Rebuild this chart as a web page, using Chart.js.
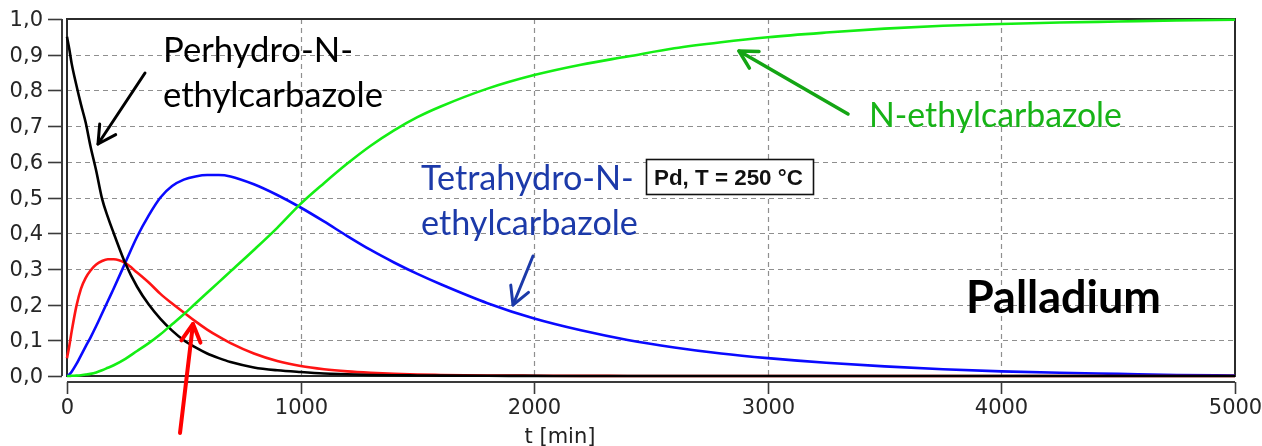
<!DOCTYPE html>
<html>
<head>
<meta charset="utf-8">
<script src="https://cdn.jsdelivr.net/npm/chart.js@4/dist/chart.umd.min.js"></script>
<style>
  html, body { margin: 0; padding: 0; background: #fff; }
  #wrap { width: 1262px; height: 446px; }
</style>
</head>
<body>
<div id="wrap"><canvas id="c" width="1262" height="446"></canvas></div>
<script>
// ---- data ----
const timeMin = [0,10,20,40,60,80,100,125,150,175,200,250,300,350,400,450,500,550,600,650,700,800,900,1000,1100,1200,1300,1400,1500,1600,1800,2000,2200,2400,2600,2800,3000,3250,3500,3750,4000,4250,4500,4750,5000];

const perhydro = [0.95,0.915,0.875,0.815,0.76,0.71,0.645,0.575,0.497,0.445,0.40,0.315,0.25,0.20,0.16,0.127,0.10,0.08,0.063,0.05,0.039,0.024,0.016,0.011,0.007,0.005,0.003,0.002,0.0015,0.001,0.0005,0.0003,0,0,0,0,0,0,0,0,0,0,0,0,0];

const octahydro = [0.05,0.085,0.125,0.195,0.245,0.275,0.295,0.312,0.322,0.327,0.327,0.316,0.29,0.262,0.23,0.203,0.178,0.153,0.13,0.11,0.092,0.063,0.042,0.028,0.019,0.013,0.009,0.006,0.004,0.003,0.0015,0.0008,0.0004,0.0002,0.0001,0,0,0,0,0,0,0,0,0,0];

const tetrahydro = [0,0.004,0.012,0.033,0.058,0.083,0.107,0.14,0.175,0.21,0.245,0.318,0.39,0.45,0.50,0.532,0.55,0.559,0.563,0.563,0.559,0.537,0.507,0.472,0.433,0.392,0.353,0.318,0.286,0.257,0.204,0.161,0.128,0.101,0.08,0.063,0.05,0.037,0.027,0.019,0.013,0.009,0.006,0.003,0.001];

const ethylcarbazole = [0,0,0.0005,0.001,0.002,0.004,0.006,0.01,0.016,0.023,0.03,0.048,0.07,0.092,0.117,0.145,0.173,0.203,0.233,0.263,0.293,0.353,0.415,0.482,0.54,0.595,0.645,0.688,0.725,0.755,0.805,0.843,0.872,0.895,0.918,0.935,0.949,0.962,0.973,0.981,0.986,0.99,0.993,0.996,0.998];

const xTickLabels = ['0','1000','2000','3000','4000','5000'];
const yTickLabels = ['0,0','0,1','0,2','0,3','0,4','0,5','0,6','0,7','0,8','0,9','1,0'];
const xTitle = 't [min]';

// ---- helpers ----
const pts = arr => timeMin.map((t, i) => ({ x: t, y: arr[i] }));

function line(ctx, x1, y1, x2, y2) {
  ctx.beginPath(); ctx.moveTo(x1, y1); ctx.lineTo(x2, y2); ctx.stroke();
}
function arrow(ctx, tail, tip, color, width) {
  ctx.save();
  ctx.strokeStyle = color; ctx.lineWidth = width; ctx.lineCap = 'round'; ctx.lineJoin = 'round';
  line(ctx, tail[0], tail[1], tip[0], tip[1]);
  const dx = tail[0] - tip[0], dy = tail[1] - tip[1];
  const L = Math.hypot(dx, dy), ux = dx / L, uy = dy / L;
  const hl = 20, a = 0.5;
  const w1 = [tip[0] + hl * (ux * Math.cos(a) - uy * Math.sin(a)), tip[1] + hl * (ux * Math.sin(a) + uy * Math.cos(a))];
  const w2 = [tip[0] + hl * (ux * Math.cos(-a) - uy * Math.sin(-a)), tip[1] + hl * (ux * Math.sin(-a) + uy * Math.cos(-a))];
  ctx.beginPath(); ctx.moveTo(w1[0], w1[1]); ctx.lineTo(tip[0], tip[1]); ctx.lineTo(w2[0], w2[1]); ctx.stroke();
  ctx.restore();
}
function fitSize(ctx, text, width, weight, family) {
  ctx.font = `${weight} 100px ${family}`;
  return 100 * width / ctx.measureText(text).width;
}
function drawText(ctx, text, x, y, size, weight, family, color, align, baseline) {
  ctx.font = `${weight} ${size}px ${family}`;
  ctx.fillStyle = color; ctx.textAlign = align || 'left'; ctx.textBaseline = baseline || 'alphabetic';
  ctx.fillText(text, x, y);
}

const decor = {
  id: 'decor',
  beforeDatasetsDraw(chart) {
    const { ctx, chartArea: a, scales: { x, y } } = chart;
    ctx.save();
    ctx.strokeStyle = '#8f8f8f'; ctx.lineWidth = 1.2; ctx.setLineDash([5, 4]);
    y.ticks.forEach(t => {
      if (t.value > 0.001 && t.value < 0.999) {
        const py = Math.round(y.getPixelForValue(t.value)) + 0.5;
        line(ctx, a.left, py, a.right, py);
      }
    });
    x.ticks.forEach(t => {
      if (t.value > 1 && t.value < 4999) {
        const px = Math.round(x.getPixelForValue(t.value)) + 0.5;
        line(ctx, px, a.top, px, a.bottom);
      }
    });
    ctx.setLineDash([]);
    ctx.strokeStyle = '#2b2b2b'; ctx.lineWidth = 2;
    ctx.strokeRect(a.left, a.top, a.right - a.left, a.bottom - a.top);
    ctx.restore();
  },
  afterDraw(chart) {
    const { ctx, chartArea: a, scales: { x, y } } = chart;
    ctx.save();
    // offset axes
    ctx.strokeStyle = '#3a3a3a'; ctx.lineWidth = 2;
    const axX = a.left - 5, axY = a.bottom + 6;
    line(ctx, axX, a.top, axX, a.bottom);
    line(ctx, a.left, axY, a.right, axY);
    ctx.lineWidth = 1.6;
    const tf = '"DejaVu Sans"';
    y.ticks.forEach((t, i) => {
      const py = Math.round(y.getPixelForValue(t.value)) + 0.5;
      line(ctx, axX - 14, py, axX, py);
      drawText(ctx, yTickLabels[i], axX - 19, py + 1, 21, 'normal', tf, '#262626', 'right', 'middle');
    });
    x.ticks.forEach((t, i) => {
      const px = Math.round(x.getPixelForValue(t.value)) + 0.5;
      line(ctx, px, axY, px, axY + 12);
      drawText(ctx, xTickLabels[i], px, axY + 27, 21, 'normal', tf, '#262626', 'center', 'middle');
    });
    // axis title
    drawText(ctx, xTitle, 560, 443, 21, 'normal', tf, '#222', 'center');

    // annotations
    const fam = 'Lato';
    const s1 = fitSize(ctx, 'ethylcarbazole', 220, 'normal', fam);
    drawText(ctx, 'Perhydro-N-', 163, 62, s1, 'normal', fam, '#000');
    drawText(ctx, 'ethylcarbazole', 163, 107, s1, 'normal', fam, '#000');

    const s2 = fitSize(ctx, 'ethylcarbazole', 217, 'normal', fam);
    drawText(ctx, 'Tetrahydro-N-', 421, 190, s2, 'normal', fam, '#1c3aa9');
    drawText(ctx, 'ethylcarbazole', 421, 235, s2, 'normal', fam, '#1c3aa9');

    const s3 = fitSize(ctx, 'N-ethylcarbazole', 253, 'normal', fam);
    drawText(ctx, 'N-ethylcarbazole', 869, 127, s3, 'normal', fam, '#17b317');

    const s4 = fitSize(ctx, 'Palladium', 195, 'bold', fam);
    drawText(ctx, 'Palladium', 966, 313, s4, 'bold', fam, '#000');

    // condition box
    ctx.fillStyle = '#fff'; ctx.fillRect(646, 159, 167, 35);
    ctx.strokeStyle = '#111'; ctx.lineWidth = 1.6; ctx.strokeRect(646.5, 159.5, 167, 35);
    const s5 = fitSize(ctx, 'Pd, T = 250 °C', 149, 'bold', '"Liberation Sans"');
    drawText(ctx, 'Pd, T = 250 °C', 654, 185, s5, 'bold', '"Liberation Sans"', '#111');

    // arrows
    arrow(ctx, [145, 73], [98, 144], '#000', 3);
    arrow(ctx, [533, 256], [513, 305], '#1c3aa9', 3);
    arrow(ctx, [180, 433], [193, 324], '#ff0000', 4);
    arrow(ctx, [848, 114], [739, 51], '#14a514', 3.5);
    ctx.restore();
  }
};

const lineDs = (label, arr, color) => ({
  label, data: pts(arr), borderColor: color, backgroundColor: color,
  borderWidth: 2.6, pointRadius: 0, showLine: true, fill: false,
  cubicInterpolationMode: 'monotone', clip: 4
});

new Chart(document.getElementById('c'), {
  type: 'scatter',
  data: {
    datasets: [
      lineDs('N-ethylcarbazole', ethylcarbazole, '#14ee14'),
      lineDs('Perhydro-N-ethylcarbazole', perhydro, '#000000'),
      lineDs('Octahydro-N-ethylcarbazole', octahydro, '#ff1414'),
      lineDs('Tetrahydro-N-ethylcarbazole', tetrahydro, '#0a0aff')
    ]
  },
  options: {
    responsive: false,
    devicePixelRatio: 1,
    animation: false,
    layout: { padding: { left: 0, top: 19, right: 27, bottom: 0 } },
    plugins: { legend: { display: false }, tooltip: { enabled: false } },
    scales: {
      x: {
        type: 'linear', min: 0, max: 5000,
        grid: { display: false, drawTicks: false },
        border: { display: false },
        ticks: { stepSize: 1000, display: false, padding: 0 },
        afterFit(s) { s.height = 70; }
      },
      y: {
        type: 'linear', min: 0, max: 1,
        grid: { display: false, drawTicks: false },
        border: { display: false },
        ticks: { stepSize: 0.1, display: false, padding: 0 },
        afterFit(s) { s.width = 67; }
      }
    }
  },
  plugins: [decor]
});
</script>
</body>
</html>
